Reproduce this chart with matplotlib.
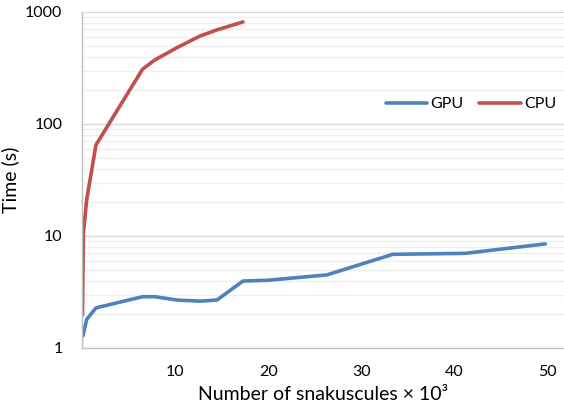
import matplotlib
matplotlib.use("Agg")
import matplotlib.pyplot as plt
from matplotlib.ticker import FixedLocator, NullFormatter

plt.rcParams['font.family'] = ['Lato', 'DejaVu Sans']

# data (x in thousands of snakuscules, time in s)
gpu_x = [0.1, 0.5, 1.5, 6.5, 7.8, 10.2, 12.7, 14.5, 17.3, 19.9, 26.3, 33.4, 41.2, 49.8]
gpu_t = [1.28, 1.8, 2.28, 2.87, 2.87, 2.68, 2.62, 2.68, 3.96, 4.02, 4.49, 6.86, 7.0, 8.5]

cpu_x = [0.05, 0.15, 0.5, 1.5, 6.5, 7.8, 10.2, 12.7, 14.5, 17.3]
cpu_t = [1.97, 10.6, 21, 65, 308, 372, 480, 611, 692, 815]

x_ticks = [10, 20, 30, 40, 50]
y_ticks = [1, 10, 100, 1000]
y_labels = ["1", "10", "100", "1000"]

fig = plt.figure(figsize=(5.64, 4.16), dpi=100)
ax = fig.add_axes([0.1454, 0.1635, 0.8546, 0.8077])

ax.plot(gpu_x, gpu_t, color="#4f81bd", lw=2.6, label="GPU", solid_capstyle="round")
ax.plot(cpu_x, cpu_t, color="#c0504d", lw=2.6, label="CPU", solid_capstyle="round")

ax.set_yscale("log")
ax.set_ylim(1, 1000)
ax.set_xlim(0, 51.8)

ax.set_yticks(y_ticks)
ax.set_yticklabels(y_labels)
minor = [m * 10 ** e for e in range(3) for m in range(2, 10)]
ax.yaxis.set_minor_locator(FixedLocator(minor))
ax.yaxis.set_minor_formatter(NullFormatter())
ax.set_xticks(x_ticks)

ax.grid(True, which="major", axis="y", color="#d9d9d9", lw=1)
ax.grid(True, which="minor", axis="y", color="#efefef", lw=1)
ax.set_axisbelow(True)

ax.tick_params(axis="both", which="both", length=0, labelsize=11.5, colors="black")
ax.tick_params(axis="x", pad=12)
ax.tick_params(axis="y", pad=14)

for s in ["top", "right"]:
    ax.spines[s].set_visible(False)
for s in ["left", "bottom"]:
    ax.spines[s].set_color("#bfbfbf")
    ax.spines[s].set_linewidth(1)

ax.set_xlabel("Number of snakuscules × 10³", fontsize=14, labelpad=5)
ax.set_ylabel("Time (s)", fontsize=14, labelpad=4)

ax.legend(loc="center", bbox_to_anchor=(0.807, 0.726), ncol=2, frameon=False,
          fontsize=11.5, handlelength=2.6, handletextpad=0.2, columnspacing=1.0,
          borderpad=0, borderaxespad=0)

fig.savefig("out.png", dpi=100)
